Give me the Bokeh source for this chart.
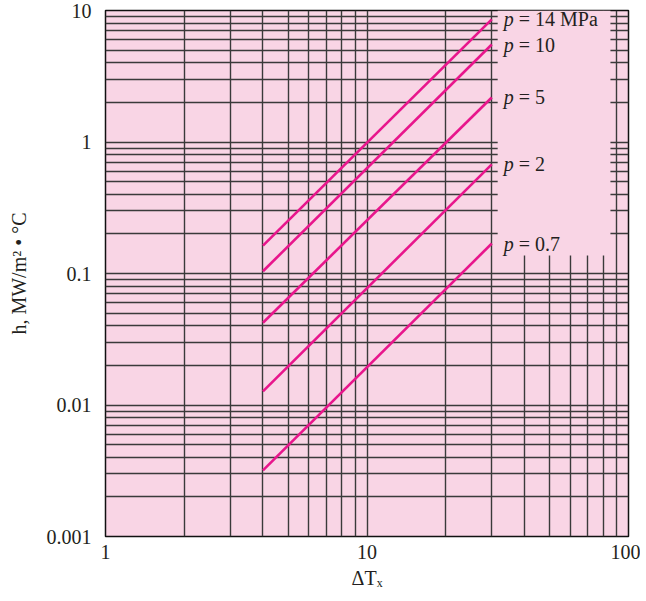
from bokeh.plotting import figure
from bokeh.models import FixedTicker, CustomJSTickFormatter
from bokeh.core.properties import value
from bokeh.embed import file_html
from bokeh.resources import INLINE

# ---- data ----
dT = [4, 30]                       # ΔTx range of each line
h_p14 = [0.163, 8.55]              # p = 14 MPa
h_p10 = [0.104, 5.51]              # p = 10
h_p5 = [0.0422, 2.18]              # p = 5
h_p2 = [0.0127, 0.675]             # p = 2
h_p07 = [0.00318, 0.169]           # p = 0.7
series = [h_p14, h_p10, h_p5, h_p2, h_p07]
label_rest = ["= 14 MPa", "= 10", "= 5", "= 2", "= 0.7"]

x_major = [1, 10, 100]
x_minor = [2, 3, 4, 5, 6, 7, 8, 9, 20, 30, 40, 50, 60, 70, 80, 90]
y_major = [0.001, 0.01, 0.1, 1, 10]
y_minor = [m * d for d in (0.001, 0.01, 0.1, 1) for m in range(2, 10)]

# ---- style / layout constants ----
BG = "#F9D5E5"
LINE = "#E8168C"
GRID = "#3a3a3a"
TXT = "#231f20"
FONT = "Liberation Serif"
FS = "20px"
BOX = dict(left=31.6, right=85.3, bottom=0.137, top=10)

p = figure(width=640, height=598, x_axis_type="log", y_axis_type="log",
           x_range=(1, 100), y_range=(0.001, 10),
           x_axis_label="ΔTₓ", y_axis_label="h, MW/m² • °C",
           output_backend="svg", toolbar_location=None,
           min_border_left=105, min_border_right=12, min_border_top=10,
           min_border_bottom=62)
p.background_fill_color = BG
p.border_fill_color = "white"
p.outline_line_color = "#111111"
p.outline_line_width = 1.5

fmt = CustomJSTickFormatter(code="return tick.toString();")
p.xaxis.ticker = FixedTicker(ticks=x_major, minor_ticks=x_minor)
p.yaxis.ticker = FixedTicker(ticks=y_major, minor_ticks=y_minor)
for ax in (p.xaxis, p.yaxis):
    ax.formatter = fmt
    ax.major_tick_out = 0
    ax.major_tick_in = 0
    ax.minor_tick_out = 0
    ax.minor_tick_in = 0
    ax.axis_line_color = None
    ax.major_label_text_font = FONT
    ax.major_label_text_font_size = FS
    ax.major_label_text_color = TXT
    ax.axis_label_text_font = FONT
    ax.axis_label_text_font_size = FS
    ax.axis_label_text_font_style = "normal"
    ax.axis_label_text_color = TXT
p.xaxis.major_label_standoff = 8
p.yaxis.major_label_standoff = 14
p.xaxis.axis_label_standoff = 5
p.yaxis.axis_label_standoff = 14

for g in (p.xgrid, p.ygrid):
    g.grid_line_color = GRID
    g.grid_line_width = 1.4
    g.minor_grid_line_color = GRID
    g.minor_grid_line_width = 1.4

for h in series:
    p.line(dT, h, line_color=LINE, line_width=2.6)

# blank panel behind the pressure labels
p.quad(left=[BOX["left"]], right=[BOX["right"]], bottom=[BOX["bottom"]],
       top=[BOX["top"]], fill_color=BG, line_color=None)

ends_x = [dT[-1]] * len(series)
ends_y = [h[-1] for h in series]
p.text(x=ends_x, y=ends_y, text=["p"] * len(series), x_offset=12,
       text_font=value(FONT), text_font_style="italic", text_font_size=FS,
       text_baseline="middle", text_color=TXT)
p.text(x=ends_x, y=ends_y, text=label_rest, x_offset=27,
       text_font=value(FONT), text_font_size=FS,
       text_baseline="middle", text_color=TXT)

open("out.html", "w").write(file_html(p, INLINE))
